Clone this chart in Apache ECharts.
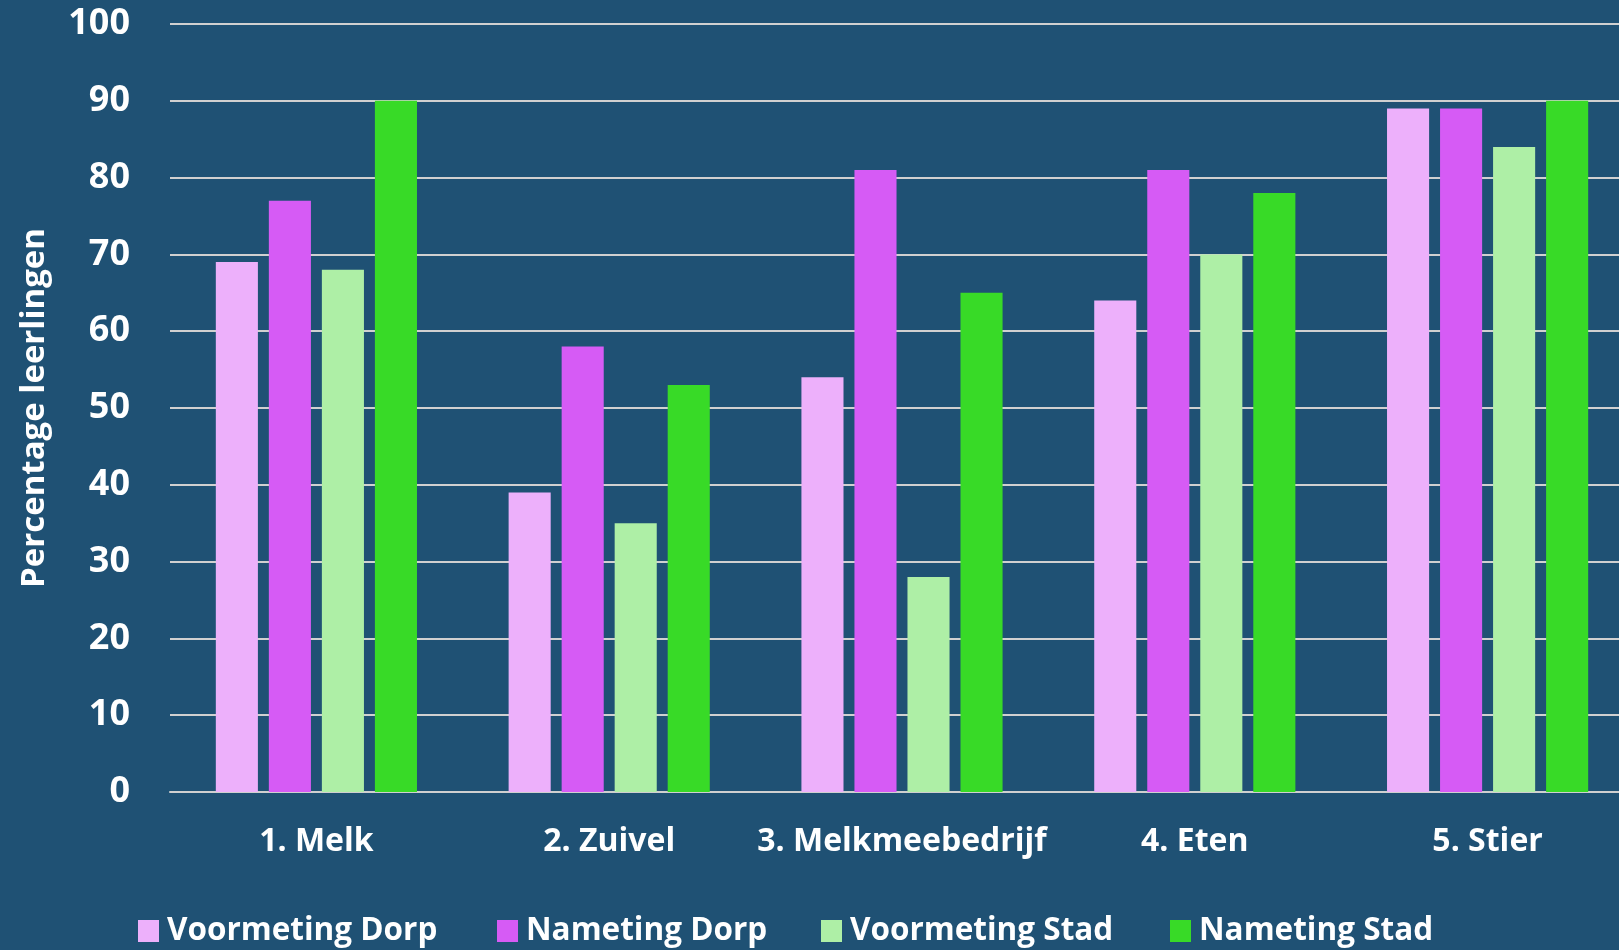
<!DOCTYPE html>
<html>
<head>
<meta charset="utf-8">
<script src="https://cdn.jsdelivr.net/npm/echarts@6/dist/echarts.min.js"></script>
<style>
html,body{margin:0;padding:0;background:#1F5174;overflow:hidden;width:1619px;height:950px;}
#chart{width:1640px;height:950px;}
</style>
</head>
<body>
<div id="chart"></div>
<script>
const categories = ['1. Melk', '2. Zuivel', '3. Melkmeebedrijf', '4. Eten', '5. Stier'];
const seriesNames = ['Voormeting Dorp', 'Nameting Dorp', 'Voormeting Stad', 'Nameting Stad'];
const voormetingDorp = [69, 39, 54, 64, 89];
const nametingDorp = [77, 58, 81, 81, 89];
const voormetingStad = [68, 35, 28, 70, 84];
const nametingStad = [90, 53, 65, 78, 90];
const yAxisTitle = 'Percentage leerlingen';

const colors = ['#EDB0FB', '#D65BF5', '#AEEFA6', '#38DA27'];
const allValues = [voormetingDorp, nametingDorp, voormetingStad, nametingStad];
const legendLefts = [138, 497, 821, 1170];
const FONT = 'Open Sans';

const chart = echarts.init(document.getElementById('chart'));
chart.setOption({
  backgroundColor: '#1F5174',
  animation: false,
  textStyle: {fontFamily: FONT},
  grid: {left: 170, right: 6, top: 24, bottom: 158, containLabel: false},
  legend: seriesNames.map((name, i) => ({
    left: legendLefts[i], top: 915, padding: 0,
    itemWidth: 21, itemHeight: 22, itemGap: 0,
    icon: 'rect',
    textStyle: {color: '#fff', fontSize: 31.5, fontWeight: 'bold', fontFamily: FONT, padding: [0, 0, 0, 3]},
    data: [name]
  })),
  xAxis: {
    type: 'category',
    data: categories,
    axisLine: {show: true, lineStyle: {color: '#D0D0D0', width: 2}},
    axisTick: {show: false},
    axisLabel: {color: '#fff', fontSize: 32, fontWeight: 'bold', fontFamily: FONT, margin: 34, interval: 0}
  },
  yAxis: {
    type: 'value', min: 0, max: 100, interval: 10,
    name: yAxisTitle, nameLocation: 'middle', nameGap: 119, nameRotate: 90,
    nameTextStyle: {color: '#fff', fontSize: 33, fontWeight: 'bold', fontFamily: FONT},
    axisLine: {show: false},
    axisTick: {show: false},
    axisLabel: {color: '#fff', fontSize: 36, fontWeight: 'bold', fontFamily: FONT, margin: 40},
    splitLine: {lineStyle: {color: '#D0D0D0', width: 2}}
  },
  series: seriesNames.map((name, i) => ({
    name: name,
    type: 'bar',
    data: allValues[i],
    barGap: '26%',
    barCategoryGap: '31.3%',
    itemStyle: {color: colors[i]}
  }))
});
</script>
</body>
</html>
